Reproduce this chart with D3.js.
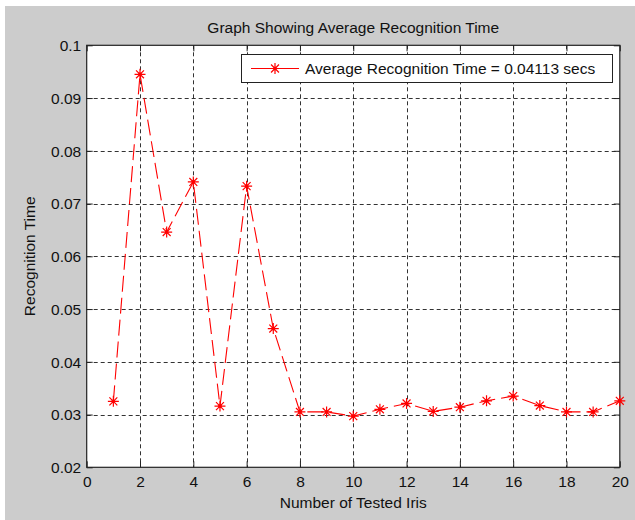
<!DOCTYPE html>
<html>
<head>
<meta charset="utf-8">
<script src="https://cdn.jsdelivr.net/npm/d3@7/dist/d3.min.js"></script>
<style>
  html, body { margin: 0; padding: 0; background: #ffffff; }
  svg { display: block; }
  text { font-family: "Liberation Sans", Arial, sans-serif; fill: #111; }
</style>
</head>
<body>
<svg id="chart" width="635" height="520"></svg>
<script>
// ---- data ----
const testedIris = [1, 2, 3, 4, 5, 6, 7, 8, 9, 10, 11, 12, 13, 14, 15, 16, 17, 18, 19, 20];
const recognitionTime = [0.0325, 0.0945, 0.0646, 0.0741, 0.0316, 0.0733, 0.0463, 0.0305, 0.0305, 0.0297,
                         0.0310, 0.0321, 0.0306, 0.0314, 0.0326, 0.0335, 0.0317, 0.0305, 0.0305, 0.0326];
const xTicks = [0, 2, 4, 6, 8, 10, 12, 14, 16, 18, 20];
const yTicks = [0.02, 0.03, 0.04, 0.05, 0.06, 0.07, 0.08, 0.09, 0.1];
const yTickLabels = ["0.02", "0.03", "0.04", "0.05", "0.06", "0.07", "0.08", "0.09", "0.1"];
const titleText = "Graph Showing Average Recognition Time";
const xLabelText = "Number of Tested Iris";
const yLabelText = "Recognition Time";
const legendText = "Average Recognition Time = 0.04113 secs";

// ---- layout ----
const W = 635, H = 520;
const L = 86.7, R = 619.8, T = 45.3, B = 467.3;
const FS = 15.5;

const svg = d3.select("#chart");

// figure background
svg.append("rect").attr("x", 5).attr("y", 6).attr("width", W - 5).attr("height", H - 6).attr("fill", "#cccccc");

const x = d3.scaleLinear().domain([0, 20]).range([L, R]);
const y = d3.scaleLinear().domain([0.02, 0.1]).range([B, T]);

// axes background
svg.append("rect").attr("x", L).attr("y", T).attr("width", R - L).attr("height", B - T).attr("fill", "#ffffff");

// grid
const grid = svg.append("g").attr("stroke", "#333").attr("stroke-width", 1).attr("stroke-dasharray", "4,3");
grid.selectAll("line.v").data(xTicks.filter(d => d > 0 && d < 20)).enter().append("line")
  .attr("x1", d => Math.round(x(d)) + 0.5).attr("x2", d => Math.round(x(d)) + 0.5)
  .attr("y1", T).attr("y2", B);
grid.selectAll("line.h").data(yTicks.filter(d => d > 0.02 && d < 0.1)).enter().append("line")
  .attr("y1", d => Math.round(y(d)) + 0.5).attr("y2", d => Math.round(y(d)) + 0.5)
  .attr("x1", L).attr("x2", R);

// axes with inside ticks
const tickLen = 6;
const xAxisB = d3.axisBottom(x).tickValues(xTicks).tickSizeInner(-tickLen).tickSizeOuter(0).tickPadding(tickLen + 8).tickFormat(d3.format("d"));
const xAxisT = d3.axisTop(x).tickValues(xTicks).tickSizeInner(-tickLen).tickSizeOuter(0).tickFormat("");
const yAxisL = d3.axisLeft(y).tickValues(yTicks).tickSizeInner(-tickLen).tickSizeOuter(0).tickPadding(tickLen + 5)
  .tickFormat((d, i) => yTickLabels[i]);
const yAxisR = d3.axisRight(y).tickValues(yTicks).tickSizeInner(-tickLen).tickSizeOuter(0).tickFormat("");

function styleAxis(g) {
  g.select(".domain").remove();
  g.selectAll(".tick line").attr("stroke", "#222");
  g.selectAll(".tick text").attr("font-size", FS).attr("font-family", "Liberation Sans, Arial, sans-serif").attr("fill", "#111");
}
svg.append("g").attr("transform", `translate(0,${B})`).call(xAxisB).call(styleAxis)
  .selectAll(".tick text").attr("dy", "0.71em").attr("y", 9);
svg.append("g").attr("transform", `translate(0,${T})`).call(xAxisT).call(styleAxis);
svg.append("g").attr("transform", `translate(${L},0)`).call(yAxisL).call(styleAxis)
  .selectAll(".tick text").attr("x", -5.5).attr("dy", "0.35em");
svg.append("g").attr("transform", `translate(${R},0)`).call(yAxisR).call(styleAxis);

// box
svg.append("rect").attr("x", L).attr("y", T).attr("width", R - L).attr("height", B - T)
  .attr("fill", "none").attr("stroke", "#222").attr("stroke-width", 1.2);

// data line
const line = d3.line().x((d, i) => x(testedIris[i])).y(d => y(d));
svg.append("path").datum(recognitionTime).attr("d", line)
  .attr("fill", "none").attr("stroke", "#ff0000").attr("stroke-width", 1.1)
  .attr("stroke-dasharray", "16,6");

// asterisk markers
function asterisk(cx, cy, r) {
  const d = r * 0.72;
  return `M${cx - r},${cy}L${cx + r},${cy}M${cx},${cy - r}L${cx},${cy + r}` +
         `M${cx - d},${cy - d}L${cx + d},${cy + d}M${cx - d},${cy + d}L${cx + d},${cy - d}`;
}
svg.append("g").selectAll("path").data(recognitionTime).enter().append("path")
  .attr("d", (d, i) => asterisk(x(testedIris[i]), y(d), 5.5))
  .attr("stroke", "#ff0000").attr("stroke-width", 1.2).attr("fill", "none");
svg.append("g").selectAll("circle").data(recognitionTime).enter().append("circle")
  .attr("cx", (d, i) => x(testedIris[i])).attr("cy", d => y(d)).attr("r", 1.8).attr("fill", "#ff0000");

// legend
const lg = svg.append("g");
lg.append("rect").attr("x", 241.5).attr("y", 54.5).attr("width", 371).attr("height", 28)
  .attr("fill", "#ffffff").attr("stroke", "#222").attr("stroke-width", 1);
lg.append("line").attr("x1", 251).attr("x2", 299).attr("y1", 68.5).attr("y2", 68.5)
  .attr("stroke", "#ff0000").attr("stroke-width", 1.1);
lg.append("path").attr("d", asterisk(275, 68.5, 5.5)).attr("stroke", "#ff0000").attr("stroke-width", 1.2);
lg.append("circle").attr("cx", 275).attr("cy", 68.5).attr("r", 1.8).attr("fill", "#ff0000");
lg.append("text").attr("x", 305).attr("y", 68.5).attr("dy", "0.35em").attr("font-size", FS).text(legendText);

// title and labels
svg.append("text").attr("x", (L + R) / 2).attr("y", 33).attr("text-anchor", "middle").attr("font-size", FS).text(titleText);
svg.append("text").attr("x", (L + R) / 2).attr("y", 508).attr("text-anchor", "middle").attr("font-size", FS).text(xLabelText);
svg.append("text").attr("transform", `translate(35,${(T + B) / 2}) rotate(-90)`).attr("text-anchor", "middle")
  .attr("font-size", FS).text(yLabelText);
</script>
</body>
</html>
